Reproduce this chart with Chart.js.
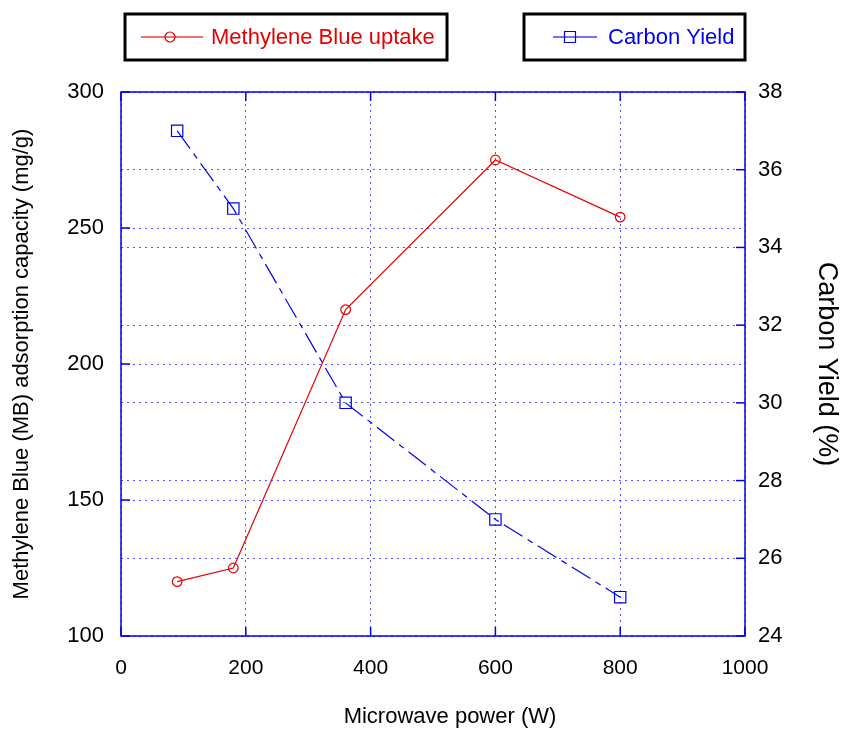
<!DOCTYPE html>
<html>
<head>
<meta charset="utf-8">
<script src="https://cdn.jsdelivr.net/npm/chart.js@4.4.1/dist/chart.umd.min.js"></script>
<style>
  html, body { margin: 0; padding: 0; background: #fff; }
</style>
</head>
<body>
<canvas id="grafik" width="843" height="729"></canvas>
<script>
// ===== data =====
const power = [90, 180, 360, 600, 800];           // Microwave power (W)
const mbUptake = [120, 125, 220, 275, 254];       // mg/g
const carbonYield = [37, 35, 30, 27, 25];         // %

const RED = "rgb(228,0,0)";
const BLUE = "rgb(0,0,235)";
const GRID = "rgba(40,40,255,0.8)";
const FONT = "'Liberation Sans', Arial, sans-serif";
const X_TITLE = "Microwave power (W)";

// ===== helper =====
function pairs(xs, ys) {
  return xs.map((x, i) => ({ x, y: ys[i] }));
}

function drawMarker(ctx, style, x, y, r, color) {
  ctx.strokeStyle = color;
  ctx.lineWidth = 1.2;
  ctx.setLineDash([]);
  ctx.beginPath();
  if (style === "circle") {
    ctx.arc(x, y, r, 0, Math.PI * 2);
  } else {
    ctx.rect(x - r, y - r, 2 * r, 2 * r);
  }
  ctx.stroke();
}

function line(ctx, x1, y1, x2, y2) {
  ctx.beginPath();
  ctx.moveTo(x1, y1);
  ctx.lineTo(x2, y2);
  ctx.stroke();
}

// legend in two framed boxes + plot frame + inner ticks
const frameAndLegend = {
  id: "frameAndLegend",
  afterDraw(chart) {
    const ctx = chart.ctx;
    const a = chart.chartArea;
    const s = chart.scales;
    ctx.save();

    // plot frame
    ctx.strokeStyle = BLUE;
    ctx.lineWidth = 1.5;
    ctx.setLineDash([]);
    ctx.strokeRect(a.left, a.top, a.right - a.left, a.bottom - a.top);

    // inward tick marks
    const T = 9;
    s.x.ticks.forEach(t => {
      const px = s.x.getPixelForValue(t.value);
      line(ctx, px, a.bottom, px, a.bottom - T);
      line(ctx, px, a.top, px, a.top + T);
    });
    s.y.ticks.forEach(t => {
      const py = s.y.getPixelForValue(t.value);
      line(ctx, a.left, py, a.left + T, py);
    });
    s.y2.ticks.forEach(t => {
      const py = s.y2.getPixelForValue(t.value);
      line(ctx, a.right, py, a.right - T, py);
    });

    // x title (sits a bit right of centre in the original)
    ctx.fillStyle = "#000";
    ctx.font = "22px " + FONT;
    ctx.textAlign = "center";
    ctx.textBaseline = "middle";
    ctx.fillText(X_TITLE, (a.left + a.right) / 2 + 17, 717);

    // legend boxes
    const boxes = [
      { ds: chart.data.datasets[0], x: 125, w: 322, lx1: 141, lx2: 203, mx: 170, tx: 211, style: "circle", r: 5 },
      { ds: chart.data.datasets[1], x: 524, w: 221, lx1: 553, lx2: 597, mx: 570, tx: 608, style: "rect", r: 5.5 }
    ];
    boxes.forEach(b => {
      ctx.setLineDash([]);
      ctx.strokeStyle = "#000";
      ctx.lineWidth = 3;
      ctx.strokeRect(b.x, 14, b.w, 46);

      const y = 37;
      ctx.strokeStyle = b.ds.borderColor;
      ctx.globalAlpha = 0.55;
      ctx.lineWidth = 2;
      line(ctx, b.lx1, y, b.lx2, y);
      ctx.globalAlpha = 1;
      drawMarker(ctx, b.style, b.mx, y, b.r, b.ds.borderColor);

      ctx.fillStyle = b.ds.borderColor;
      ctx.font = "22px " + FONT;
      ctx.textBaseline = "middle";
      ctx.textAlign = "left";
      ctx.fillText(b.ds.label, b.tx, y + 1);
    });
    ctx.restore();
  }
};

// ===== grafik =====
const chart = new Chart(document.getElementById("grafik"), {
  type: "line",
  data: {
    datasets: [
      {
        label: "Methylene Blue uptake",
        data: pairs(power, mbUptake),
        yAxisID: "y",
        borderColor: RED,
        borderWidth: 1.2,
        backgroundColor: "transparent",
        pointStyle: "circle",
        pointRadius: 4.8,
        pointBorderWidth: 1.2,
        pointBorderColor: RED,
        pointBackgroundColor: "transparent",
        tension: 0
      },
      {
        label: "Carbon Yield",
        data: pairs(power, carbonYield),
        yAxisID: "y2",
        borderColor: BLUE,
        borderWidth: 1.2,
        borderDash: [22, 6, 6, 6],
        backgroundColor: "transparent",
        pointStyle: "rect",
        pointRadius: 8,
        pointBorderWidth: 1.2,
        pointBorderColor: BLUE,
        pointBackgroundColor: "transparent",
        tension: 0
      }
    ]
  },
  options: {
    responsive: false,
    animation: false,
    layout: { padding: { top: 92, left: 0, right: 0, bottom: 0 } },
    plugins: { legend: { display: false }, tooltip: { enabled: false } },
    scales: {
      x: {
        type: "linear",
        min: 0, max: 1000,
        ticks: { stepSize: 200, color: "#000", font: { size: 21, family: FONT }, padding: 20,
                 callback: v => String(v) },
        grid: { color: GRID, drawTicks: false, lineWidth: 1 },
        border: { display: false, dash: [2, 4] },
        title: { display: false },
        afterFit(s) { s.height = 93; }
      },
      y: {
        position: "left",
        min: 100, max: 300,
        ticks: { stepSize: 50, color: "#000", font: { size: 22, family: FONT }, padding: 17 },
        grid: { color: GRID, drawTicks: false, lineWidth: 1 },
        border: { display: false, dash: [2, 4] },
        title: { display: true, text: "Methylene Blue (MB) adsorption capacity (mg/g)", color: "#000", font: { size: 22, family: FONT }, padding: { top: 9 } },
        afterFit(s) { s.width = 121; }
      },
      y2: {
        position: "right",
        min: 24, max: 38,
        ticks: { stepSize: 2, color: "#000", font: { size: 22, family: FONT }, padding: 13 },
        grid: { color: GRID, drawTicks: false, lineWidth: 1 },
        border: { display: false, dash: [2, 4] },
        title: { display: true, text: "Carbon Yield (%)", color: "#000", font: { size: 27, family: FONT }, padding: { top: 0 } },
        afterFit(s) { s.width = 98; }
      }
    }
  },
  plugins: [frameAndLegend]
});
</script>
</body>
</html>
